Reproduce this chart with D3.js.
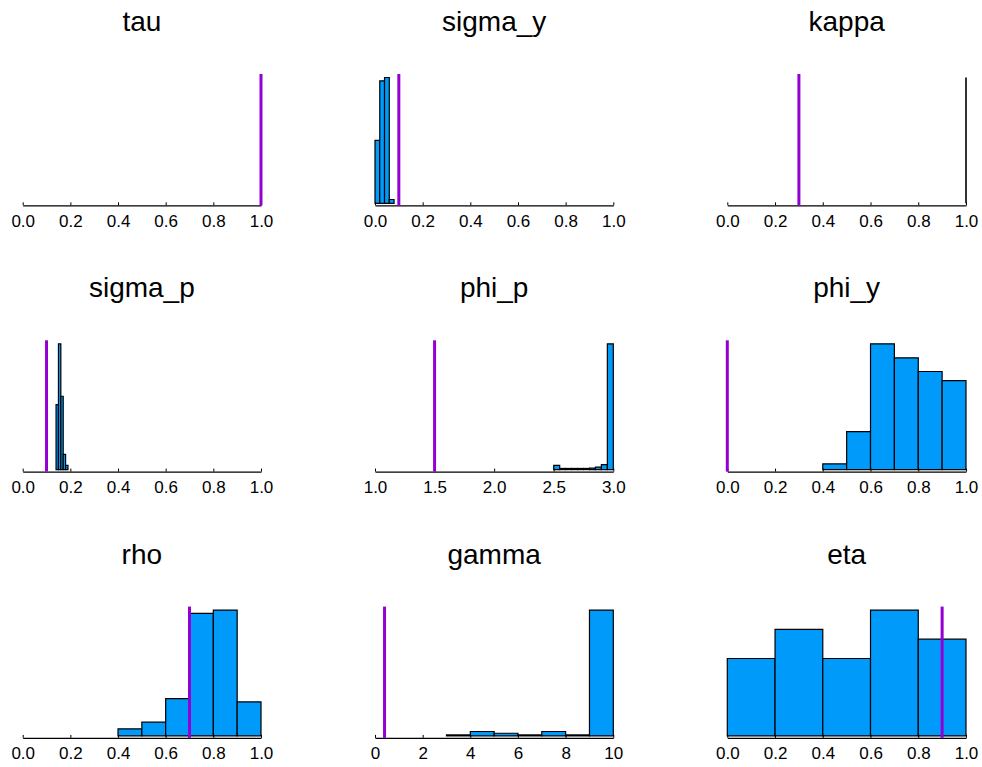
<!DOCTYPE html>
<html>
<head>
<meta charset="utf-8">
<script src="https://cdn.jsdelivr.net/npm/d3@7"></script>
<style>
  html, body { margin: 0; padding: 0; background: #fff; }
  svg { display: block; }
  text { font-family: "Liberation Sans", Arial, Helvetica, sans-serif; fill: #000; }
</style>
</head>
<body>
<svg id="chart" width="982" height="767"></svg>
<script>
// Parameter names, one panel each (row-major, 3 x 3 grid)
const titles = ["tau", "sigma_y", "kappa", "sigma_p", "phi_p", "phi_y", "rho", "gamma", "eta"];

// True parameter values (vertical reference lines)
const truthValues = [1.0, 0.1, 0.3, 0.1, 1.5, 0.0, 0.7, 0.4, 0.9];

// x-axis ranges and tick labels
const xDomains = [[0, 1], [0, 1], [0, 1], [0, 1], [1, 3], [0, 1], [0, 1], [0, 10], [0, 1]];
const unitTicks = ["0.0", "0.2", "0.4", "0.6", "0.8", "1.0"];
const phiPTicks = ["1.0", "1.5", "2.0", "2.5", "3.0"];
const gammaTicks = ["0", "2", "4", "6", "8", "10"];

// Posterior histograms: bin edges and bar heights
const tauEdges = [1.0, 1.0];
const tauCounts = [1.0];
const sigmaYEdges = [0.00, 0.02, 0.04, 0.06, 0.08];
const sigmaYCounts = [0.50, 0.974, 1.0, 0.03];
const kappaEdges = [1.0, 1.0];
const kappaCounts = [1.0];
const sigmaPEdges = [0.14, 0.15, 0.16, 0.17, 0.18, 0.19];
const sigmaPCounts = [0.517, 1.0, 0.583, 0.121, 0.034];
const phiPEdges = [2.50, 2.55, 2.60, 2.65, 2.70, 2.75, 2.80, 2.85, 2.90, 2.95, 3.00];
const phiPCounts = [0.033, 0.009, 0.009, 0.009, 0.009, 0.009, 0.012, 0.02, 0.04, 1.0];
const phiYEdges = [0.4, 0.5, 0.6, 0.7, 0.8, 0.9, 1.0];
const phiYCounts = [0.045, 0.302, 1.0, 0.889, 0.78, 0.708];
const rhoEdges = [0.4, 0.5, 0.6, 0.7, 0.8, 0.9, 1.0];
const rhoCounts = [0.056, 0.109, 0.297, 0.974, 1.0, 0.27];
const gammaEdges = [3, 4, 5, 6, 7, 8, 9, 10];
const gammaCounts = [0.008, 0.035, 0.021, 0.008, 0.035, 0.008, 1.0];
const etaEdges = [0.0, 0.2, 0.4, 0.6, 0.8, 1.0];
const etaCounts = [8, 11, 8, 13, 10];

const panelEdges = [tauEdges, sigmaYEdges, kappaEdges, sigmaPEdges, phiPEdges, phiYEdges, rhoEdges, gammaEdges, etaEdges];
const panelCounts = [tauCounts, sigmaYCounts, kappaCounts, sigmaPCounts, phiPCounts, phiYCounts, rhoCounts, gammaCounts, etaCounts];
const panelTicks = [unitTicks, unitTicks, unitTicks, unitTicks, phiPTicks, unitTicks, unitTicks, gammaTicks, unitTicks];

// Grid geometry
const colX = [[22.7, 261], [375, 613.3], [727.3, 966]];
const rowTop = 74, rowBottom = 205.3, rowStep = 266.3;

const barFill = "#009AFA";
const lineColor = "#9400D3";

const svg = d3.select("#chart");

titles.forEach((name, i) => {
  const col = i % 3, row = Math.floor(i / 3);
  const top = rowTop + row * rowStep;
  const bottom = rowBottom + row * rowStep;
  const [left, right] = colX[col];

  const g = svg.append("g");

  const x = d3.scaleLinear().domain(xDomains[i]).range([left, right]);
  const maxCount = d3.max(panelCounts[i]);
  const y = d3.scaleLinear()
    .domain([-0.016 * maxCount, 1.028 * maxCount])
    .range([bottom, top]);

  // Title
  g.append("text")
    .attr("x", (left + right) / 2)
    .attr("y", 31 + row * rowStep)
    .attr("text-anchor", "middle")
    .style("font-size", "28px")
    .text(name);

  // Histogram bars (drawn as paths so zero-width bins still show an outline)
  const edges = panelEdges[i];
  const bins = panelCounts[i].map((c, k) => ({ x0: edges[k], x1: edges[k + 1], c }));
  g.selectAll("path.bar")
    .data(bins)
    .join("path")
    .attr("class", "bar")
    .attr("d", d => {
      const x0 = x(d.x0), x1 = x(d.x1), y0 = y(0), y1 = y(d.c);
      return `M${x0},${y0}H${x1}V${y1}H${x0}Z`;
    })
    .attr("fill", barFill)
    .attr("stroke", "#000")
    .attr("stroke-width", d => d.x0 === d.x1 ? 1.6 : 1.2)
    .attr("stroke-linejoin", "miter");

  // x axis
  const tickVals = panelTicks[i].map(Number);
  const axis = d3.axisBottom(x)
    .tickValues(tickVals)
    .tickFormat((d, k) => panelTicks[i][k])
    .tickSize(-3)
    .tickSizeOuter(0)
    .tickPadding(6);
  const ax = g.append("g")
    .attr("transform", `translate(0,${bottom})`)
    .call(axis);
  ax.select(".domain").attr("stroke", "#000").attr("stroke-width", 1.3);
  ax.selectAll(".tick line").attr("stroke", "#000").attr("stroke-width", 1);
  ax.selectAll(".tick text")
    .style("font-family", '"Liberation Sans", Arial, sans-serif')
    .style("font-size", "17px")
    .attr("fill", "#000")
    .attr("dy", null)
    .attr("y", 21.5);

  // True value line spanning the plot height
  g.append("line")
    .attr("x1", x(truthValues[i]))
    .attr("x2", x(truthValues[i]))
    .attr("y1", top)
    .attr("y2", bottom)
    .attr("stroke", lineColor)
    .attr("stroke-width", 3);
});
</script>
</body>
</html>
